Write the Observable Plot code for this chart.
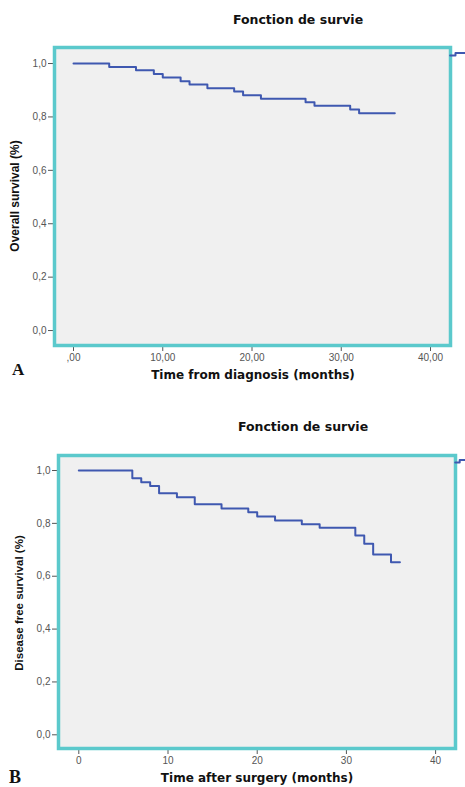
<!DOCTYPE html>
<html><head><meta charset="utf-8">
<script src="https://cdn.jsdelivr.net/npm/d3@7"></script>
<script src="https://cdn.jsdelivr.net/npm/@observablehq/plot@0.6"></script>
<style>
body{margin:0;background:#fff;}
#wrap{position:relative;width:465px;height:787px;overflow:hidden;font-family:"Liberation Sans",Arial,sans-serif;}
.panel{position:absolute;left:0;}
.t{position:absolute;white-space:nowrap;transform:translate(-50%,-50%);color:#111;font-weight:bold;line-height:1;}
.title{font-size:12.5px;font-family:"DejaVu Sans",sans-serif;}
.xl{font-size:12px;font-family:"DejaVu Sans",sans-serif;}
.yl{transform:translate(-50%,-50%) rotate(-90deg);}
.pl{position:absolute;font-family:"Liberation Serif","Times New Roman",serif;font-weight:bold;color:#111;}
</style></head><body>
<div id="wrap"></div>
<script>
// ---- data ----
const chartTitle = "Fonction de survie";
const panelLetters = ["A", "B"];

const timesA = [0, 4, 7, 9, 10, 12, 13, 15, 18, 19, 21, 26, 27, 31, 32, 36];
const survA  = [1.000, 0.987, 0.975, 0.961, 0.948, 0.934, 0.921, 0.907, 0.895, 0.881, 0.868, 0.855, 0.842, 0.828, 0.814, 0.814];

const timesB = [0, 6, 7, 8, 9, 11, 13, 16, 19, 20, 22, 25, 27, 31, 32, 33, 35, 36];
const survB  = [1.000, 0.971, 0.956, 0.941, 0.914, 0.899, 0.872, 0.856, 0.842, 0.826, 0.811, 0.797, 0.783, 0.754, 0.723, 0.682, 0.653, 0.653];

// cropped legend sample visible at top-right outside each frame
const legendTimesA = [42.2, 42.8, 44];
const legendSurvA  = [1.030, 1.039, 1.039];
const legendTimesB = [42.2, 42.7, 44];
const legendSurvB  = [1.030, 1.040, 1.040];

const yTicks = [0, 0.2, 0.4, 0.6, 0.8, 1.0];
const yTickLabels = ["0,0", "0,2", "0,4", "0,6", "0,8", "1,0"];
const xTicks = [0, 10, 20, 30, 40];
const xTickLabelsA = [",00", "10,00", "20,00", "30,00", "40,00"];
const xTickLabelsB = ["0", "10", "20", "30", "40"];

const xTitleA = "Time from diagnosis (months)";
const xTitleB = "Time after surgery (months)";
const yTitleA = "Overall survival (%)";
const yTitleB = "Disease free survival (%)";

// ---- drawing ----
const LINE = "#3f58b0", FRAME = "#5bc9cc", BG = "#f0f0f0";

function km(times, surv, legT, legS, xLabels, o) {
  const rows = times.map((t, i) => ({t, s: surv[i]}));
  const leg = legT.map((t, i) => ({t, s: legS[i]}));
  return Plot.plot({
    width: 465, height: o.height,
    marginLeft: o.ml, marginRight: o.mr, marginTop: o.mt, marginBottom: o.mb,
    x: {domain: o.xd}, y: {domain: o.yd},
    style: {fontFamily: '"Liberation Sans", Arial, sans-serif', fontSize: "10px", color: "#555", background: "transparent", overflow: "visible"},
    marks: [
      Plot.frame({fill: BG, stroke: null}),
      Plot.axisY(yTicks, {tickSize: 6, tickPadding: 2, tickFormat: d => yTickLabels[yTicks.indexOf(d)], label: null}),
      Plot.axisX(xTicks, {tickSize: 6, tickPadding: 2, tickFormat: d => xLabels[xTicks.indexOf(d)], label: null}),
      Plot.line(rows, {x: "t", y: "s", curve: "step-after", stroke: LINE, strokeWidth: 2}),
      Plot.frame({stroke: FRAME, strokeWidth: 3.5}),
      Plot.line(leg, {x: "t", y: "s", curve: "step-after", stroke: LINE, strokeWidth: 2})
    ]
  });
}

const wrap = document.getElementById("wrap");
function add(el, top) { el.classList.add("panel"); el.style.top = top + "px"; wrap.appendChild(el); }
function txt(s, cls, x, y, extra) {
  const d = document.createElement("div");
  d.className = cls; d.textContent = s;
  d.style.left = x + "px"; d.style.top = y + "px";
  if (extra) Object.assign(d.style, extra);
  wrap.appendChild(d);
}

add(km(timesA, survA, legendTimesA, legendSurvA, xTickLabelsA,
  {height: 395, ml: 54, mr: 15, mt: 47, mb: 50, xd: [-2.13, 42.24], yd: [-0.056, 1.06]}), 0);
add(km(timesB, survB, legendTimesB, legendSurvB, xTickLabelsB,
  {height: 392, ml: 58, mr: 10, mt: 60, mb: 39, xd: [-2.276, 42.23], yd: [-0.0518, 1.0568]}), 395);

txt(chartTitle, "t title", 298, 20);
txt(chartTitle, "t title", 303, 427);
txt(xTitleA, "t xl", 253, 375);
txt(xTitleB, "t xl", 257, 778);
txt(yTitleA, "t yl", 15, 196, {fontSize: "12px"});
txt(yTitleB, "t yl", 20, 603, {fontSize: "11.5px"});
txt(panelLetters[0], "pl", 12, 361, {fontSize: "17px", lineHeight: "17px"});
txt(panelLetters[1], "pl", 9, 768, {fontSize: "18px", lineHeight: "18px"});
</script>
</body></html>
